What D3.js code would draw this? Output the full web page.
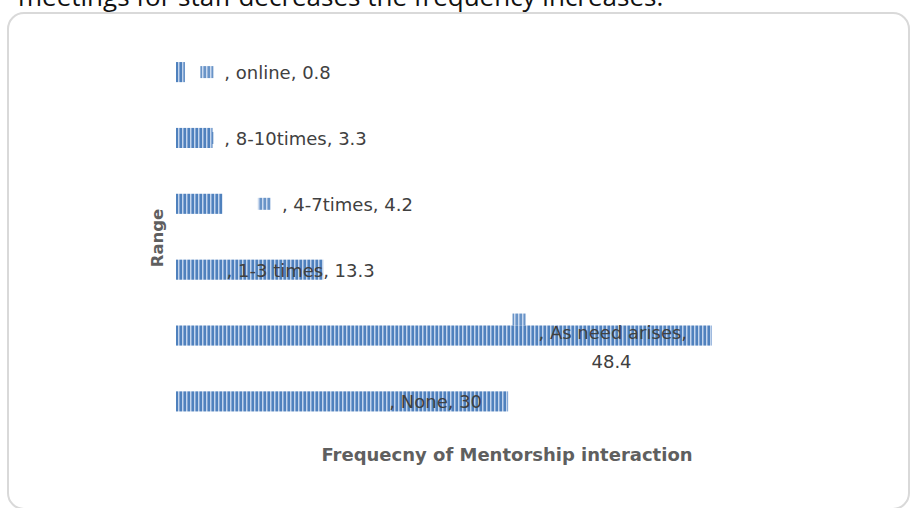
<!DOCTYPE html>
<html>
<head>
<meta charset="utf-8">
<script src="https://cdn.jsdelivr.net/npm/d3@7"></script>
<style>
  html, body { margin: 0; padding: 0; background: #fff; }
  svg { display: block; }
</style>
</head>
<body>
<svg id="chart" width="913" height="508"></svg>
<script>
// ---- data ----
const categories = ["online", "8-10times", "4-7times", "1-3 times", "As need arises", "None"];
const values = [0.8, 3.3, 4.2, 13.3, 48.4, 30];
const labelLines = [
  [", online, 0.8"],
  [", 8-10times, 3.3"],
  [", 4-7times, 4.2"],
  [", 1-3 times, 13.3"],
  [", As need arises,", "48.4"],
  [", None, 30"]
];
const xTitle = "Frequecny of Mentorship interaction";
const yTitle = "Range";
const headerText = "meetings for staff decreases the frequency increases.";

// label marker offsets (in value units from bar start)
const markerDX = [2.2, 2.2, 7.4, 2.4, 30.4, 17.1];
const markerDY = [0, 0, 0, 0, -16, 0];

const svg = d3.select("#chart");

// stripe pattern
const defs = svg.append("defs");
const pat = defs.append("pattern").attr("id", "stripes")
  .attr("patternUnits", "userSpaceOnUse").attr("width", 4).attr("height", 4);
pat.append("rect").attr("x", 0).attr("y", 0).attr("width", 4).attr("height", 4).attr("fill", "#4f81bd");
pat.append("rect").attr("x", 2).attr("y", 0).attr("width", 1).attr("height", 4).attr("fill", "#c3d5ec");
pat.append("rect").attr("x", 3).attr("y", 0).attr("width", 1).attr("height", 4).attr("fill", "#86a8d6");

// header text (cut off at top, as in the source)
svg.append("text").attr("x", 18).attr("y", 6)
  .attr("font-family", "Open Sans, sans-serif").attr("font-size", 26)
  .attr("fill", "#111").text(headerText);

// frame
svg.append("rect").attr("x", 8).attr("y", 13).attr("width", 901).attr("height", 496)
  .attr("rx", 16).attr("ry", 16).attr("fill", "none")
  .attr("stroke", "#d9d9d9").attr("stroke-width", 2);

// scales
const x = d3.scaleLinear().domain([0, 50]).range([176, 729.5]);
const y = d3.scaleBand().domain(categories).range([39, 434.5]).paddingInner(0.695).paddingOuter(0.35);

// bars
svg.append("g").selectAll("rect").data(categories).join("rect")
  .attr("x", x(0))
  .attr("y", d => y(d))
  .attr("width", (d, i) => x(values[i]) - x(0))
  .attr("height", y.bandwidth())
  .attr("fill", "url(#stripes)");

// data labels
const lab = svg.append("g");
categories.forEach((c, i) => {
  const mx = x(markerDX[i]);
  const cy = y(c) + y.bandwidth() / 2 + markerDY[i];
  lab.append("rect").attr("x", mx).attr("y", cy - 6).attr("width", 13).attr("height", 12)
    .attr("fill", "url(#stripes)").attr("opacity", 0.85);
  const lines = labelLines[i];
  const t = lab.append("text")
    .attr("font-family", "DejaVu Sans, sans-serif").attr("font-size", 18)
    .attr("fill", "#404040");
  if (lines.length === 1) {
    t.append("tspan").attr("x", mx + 24).attr("y", cy + 7).text(lines[0]);
  } else {
    t.append("tspan").attr("x", mx + 26).attr("y", cy + 19).text(lines[0]);
    t.append("tspan").attr("x", mx + 99).attr("y", cy + 48).attr("text-anchor", "middle").text(lines[1]);
  }
});

// axis titles
svg.append("text").attr("x", 507).attr("y", 461).attr("text-anchor", "middle")
  .attr("font-family", "DejaVu Sans, sans-serif").attr("font-size", 18)
  .attr("font-weight", "bold").attr("fill", "#5f5f5f").text(xTitle);
svg.append("text").attr("transform", "translate(163,238) rotate(-90)").attr("text-anchor", "middle")
  .attr("font-family", "DejaVu Sans, sans-serif").attr("font-size", 16.5)
  .attr("font-weight", "bold").attr("fill", "#5f5f5f").text(yTitle);
</script>
</body>
</html>
